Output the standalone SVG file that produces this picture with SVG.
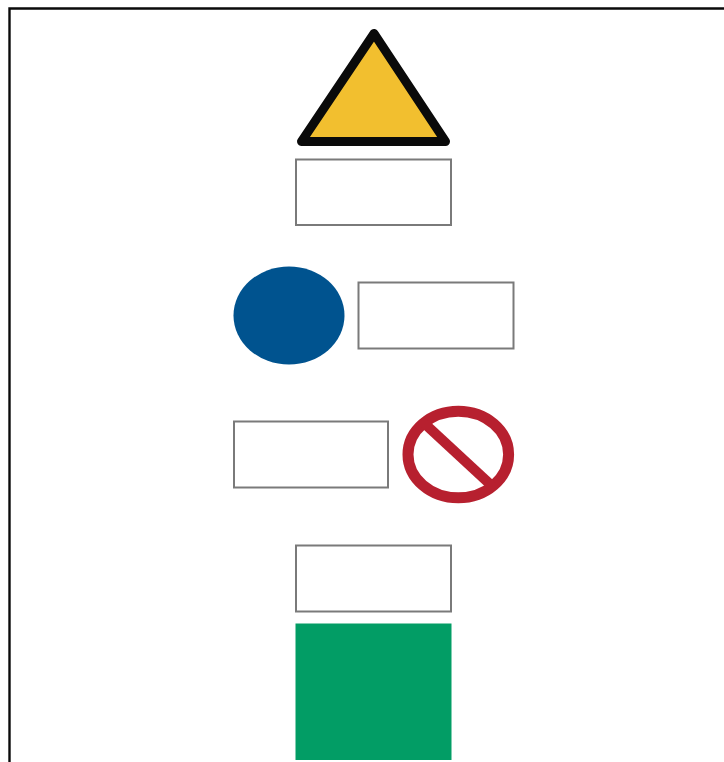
<svg xmlns="http://www.w3.org/2000/svg" width="724" height="762" viewBox="0 0 724 762">
  <style>
    .box { fill: #ffffff; stroke: #7a7a7a; stroke-width: 2; }
    .frame { fill: none; stroke: #0a0a0a; stroke-width: 2.400; }
  </style>
  <rect width="724" height="762" fill="#ffffff"/>
  <path id="frame" class="frame" d="M9.500 762V8.500H724"/>
  <g id="warning-triangle">
    <path d="M374 33.500L301.500 141.500H445.500Z" fill="#f2bf2f" stroke="#0a0a0a" stroke-width="9" stroke-linejoin="round"/>
  </g>
  <g id="warning-box"><rect class="box" x="296" y="159.500" width="155" height="65.500"/></g>
  <g id="mandatory-circle"><ellipse cx="289" cy="315.500" rx="55.500" ry="49" fill="#00538f"/></g>
  <g id="mandatory-box"><rect class="box" x="358.500" y="282.500" width="155" height="66"/></g>
  <g id="prohibition-box"><rect class="box" x="234" y="421.500" width="154" height="66"/></g>
  <g id="prohibition-sign" fill="none" stroke="#b7202f">
    <ellipse cx="458.300" cy="454.500" rx="50.300" ry="43.300" stroke-width="11"/>
    <path d="M425 424L492 486" stroke-width="10"/>
  </g>
  <g id="safe-box"><rect class="box" x="296" y="545.500" width="155" height="66"/></g>
  <g id="safe-square"><rect x="295.500" y="623.500" width="156" height="136.500" fill="#029d65"/></g>
  <g id="connectors"></g>
</svg>
